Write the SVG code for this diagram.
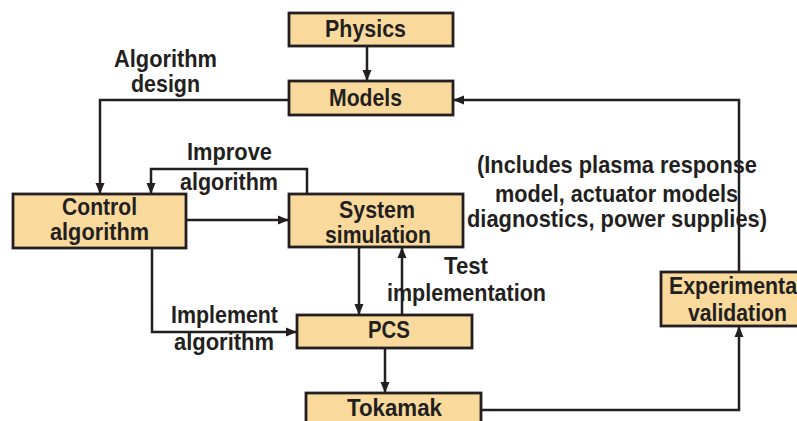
<svg xmlns="http://www.w3.org/2000/svg" width="797" height="421" viewBox="0 0 797 421">
  <defs>
    <marker id="arrow" markerUnits="userSpaceOnUse" markerWidth="12" markerHeight="12" viewBox="0 0 12 12" refX="11" refY="6" orient="auto">
      <path d="M0,1.5 L11,6 L0,10.5 Z" fill="#231f20"/>
    </marker>
    <style>
      .box { fill: #f9da9c; stroke: #231f20; stroke-width: 2.8; }
      .lbl { font-family: "Liberation Sans", Arial, sans-serif; font-weight: bold; font-size: 24px; fill: #231f20; }
      .wire { fill: none; stroke: #231f20; stroke-width: 2.5; }
      .arr { marker-end: url(#arrow); }
    </style>
  </defs>
  <rect width="797" height="421" fill="#ffffff"/>

  <!-- connectors -->
  <g id="connectors">
    <path class="wire arr" d="M367 46 V81"/>
    <path class="wire arr" d="M289 100 H100 V194"/>
    <path class="wire arr" d="M186 220 H289"/>
    <path class="wire arr" d="M307 194 V169 H151 V194"/>
    <path class="wire arr" d="M152 248 V332 H297"/>
    <path class="wire arr" d="M359 247 V315"/>
    <path class="wire arr" d="M402 315 V247"/>
    <path class="wire arr" d="M385 348 V393"/>
    <path class="wire arr" d="M481 410 H739 V326"/>
    <path class="wire arr" d="M739 272 V100 H453"/>
  </g>

  <!-- edge labels -->
  <g id="edge-labels" class="lbl">
    <text x="114" y="67" textLength="103" lengthAdjust="spacingAndGlyphs">Algorithm</text>
    <text x="131" y="92" textLength="69" lengthAdjust="spacingAndGlyphs">design</text>
    <text x="187" y="160" textLength="85" lengthAdjust="spacingAndGlyphs">Improve</text>
    <text x="180" y="190" textLength="98" lengthAdjust="spacingAndGlyphs">algorithm</text>
    <text x="444" y="274" textLength="44" lengthAdjust="spacingAndGlyphs">Test</text>
    <text x="387" y="301" textLength="159" lengthAdjust="spacingAndGlyphs">implementation</text>
    <text x="171" y="323" textLength="107" lengthAdjust="spacingAndGlyphs">Implement</text>
    <text x="174" y="350" textLength="100" lengthAdjust="spacingAndGlyphs">algorithm</text>
    <text x="477" y="173" textLength="280" lengthAdjust="spacingAndGlyphs">(Includes plasma response</text>
    <text x="495" y="202" textLength="243" lengthAdjust="spacingAndGlyphs">model, actuator models</text>
    <text x="467" y="227" textLength="300" lengthAdjust="spacingAndGlyphs">diagnostics, power supplies)</text>
  </g>

  <!-- nodes -->
  <g id="physics">
    <rect class="box" x="289" y="13" width="164" height="33"/>
    <text class="lbl" x="325" y="37" textLength="81" lengthAdjust="spacingAndGlyphs">Physics</text>
  </g>
  <g id="models">
    <rect class="box" x="289" y="81" width="164" height="34"/>
    <text class="lbl" x="329" y="106" textLength="73" lengthAdjust="spacingAndGlyphs">Models</text>
  </g>
  <g id="control-algorithm">
    <rect class="box" x="13" y="194" width="173" height="54"/>
    <text class="lbl" x="62" y="215" textLength="75" lengthAdjust="spacingAndGlyphs">Control</text>
    <text class="lbl" x="50" y="240" textLength="99" lengthAdjust="spacingAndGlyphs">algorithm</text>
  </g>
  <g id="system-simulation">
    <rect class="box" x="289" y="194" width="174" height="53"/>
    <text class="lbl" x="339" y="218" textLength="76" lengthAdjust="spacingAndGlyphs">System</text>
    <text class="lbl" x="325" y="243" textLength="106" lengthAdjust="spacingAndGlyphs">simulation</text>
  </g>
  <g id="pcs">
    <rect class="box" x="297" y="315" width="175" height="33"/>
    <text class="lbl" x="368" y="338" textLength="42" lengthAdjust="spacingAndGlyphs">PCS</text>
  </g>
  <g id="tokamak">
    <rect class="box" x="306" y="393" width="175" height="40"/>
    <text class="lbl" x="347" y="416" textLength="95" lengthAdjust="spacingAndGlyphs">Tokamak</text>
  </g>
  <g id="experimental-validation">
    <rect class="box" x="661" y="272" width="170" height="54"/>
    <text class="lbl" x="669" y="294" textLength="134" lengthAdjust="spacingAndGlyphs">Experimental</text>
    <text class="lbl" x="688" y="321" textLength="99" lengthAdjust="spacingAndGlyphs">validation</text>
  </g>
</svg>
